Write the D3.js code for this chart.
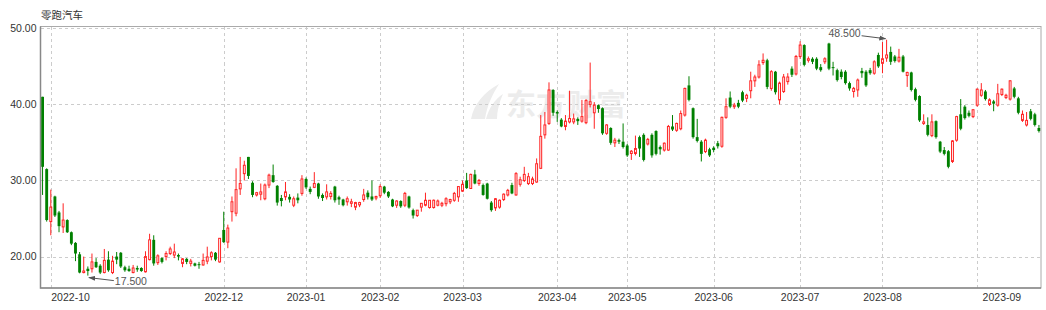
<!DOCTYPE html>
<html>
<head>
<meta charset="utf-8">
<script src="https://cdn.jsdelivr.net/npm/d3@7"></script>
<style>
  body { margin: 0; background: #fff; }
  svg { display: block; font-family: 'Liberation Sans', Arial, sans-serif; }
</style>
</head>
<body>
<script>
let title = '零跑汽车'
let firstDay = '2022-09-29'
let lastDay = '2023-09-26'
// HK market closed (holidays, typhoon / rainstorm days)
let closedDays = ['2022-10-04', '2022-12-26', '2022-12-27', '2023-01-02', '2023-01-23', '2023-01-24',
  '2023-01-25', '2023-04-05', '2023-04-07', '2023-04-10', '2023-05-01', '2023-05-26', '2023-06-22',
  '2023-07-17', '2023-09-01', '2023-09-08']

let opens = [41.0, 31.5, 24.6, 27.9, 25.8, 23.9, 24.8, 23.2, 21.8, 20.3,
  17.9, 18.4, 18.4, 19.3, 18.8, 17.9, 19.6, 17.9, 20.0, 20.5,
  18.6, 18.4, 17.9, 18.5, 18.5, 18.0, 19.6, 22.2, 19.2, 19.8,
  20.0, 20.4, 20.2, 20.2, 19.1, 19.7, 19.1, 19.1, 19.0, 18.9,
  19.4, 20.0, 20.5, 19.3, 23.5, 21.9, 25.9, 25.7, 28.9, 30.9,
  33.1, 29.7, 28.1, 28.2, 27.6, 29.4, 30.7, 29.3, 27.7, 27.85,
  27.85, 26.75, 27.75, 28.3, 30.2, 28.9, 29.1, 29.6, 28.1, 27.85,
  27.9, 29.2, 27.8, 27.5, 27.2, 27.0, 26.5, 26.8, 27.5, 28.4,
  27.9, 27.7, 28.0, 29.2, 28.5, 27.5, 26.75, 27.3, 26.75, 27.9,
  26.1, 25.4, 26.5, 26.75, 26.45, 26.45, 26.75, 26.75, 26.95, 27.2,
  27.4, 27.85, 28.6, 30.0, 28.95, 30.8, 29.6, 29.4, 29.6, 27.1,
  26.4, 26.5, 27.5, 28.1, 29.4, 28.1, 29.5, 30.0, 29.6, 29.6,
  29.8, 31.6, 36.0, 37.5, 41.9, 39.0, 38.0, 37.1, 37.7, 37.7,
  38.1, 37.8, 37.6, 40.0, 38.9, 39.9, 39.5, 36.2, 36.9, 34.95,
  35.3, 35.1, 34.6, 33.55, 33.55, 35.7, 36.0, 34.8, 36.0, 36.5,
  34.4, 34.0, 34.0, 37.1, 36.6, 36.8, 38.6, 42.5, 39.5, 35.7,
  35.1, 33.8, 34.1, 34.3, 34.9, 34.5, 38.3, 40.9, 39.7, 40.2,
  41.6, 40.8, 41.8, 43.1, 43.6, 45.5, 45.8, 42.1, 44.3, 40.6,
  41.7, 43.0, 44.7, 44.0, 46.3, 47.8, 45.8, 46.0, 46.0, 44.9,
  45.6, 48.0, 44.9, 44.5, 44.3, 44.3, 42.8, 41.7, 41.9, 44.4,
  44.3, 44.5, 44.1, 46.5, 45.4, 46.1, 46.9, 46.3, 45.7, 46.3,
  43.8, 44.2, 42.0, 41.1, 37.5, 37.3, 35.9, 37.8, 35.1, 34.0,
  33.85, 32.5, 35.3, 38.7, 39.7, 38.9, 38.4, 39.9, 41.2, 41.7,
  40.0, 40.4, 39.9, 41.3, 40.9, 40.7, 42.1, 40.8, 37.9, 37.3,
  39.1, 38.7, 36.9]
let highs = [41.0, 31.6, 28.8, 28.0, 26.0, 27.0, 24.9, 23.3, 21.9, 20.6,
  20.0, 18.7, 20.4, 19.8, 19.0, 21.0, 20.7, 20.1, 20.6, 20.6,
  18.8, 18.8, 18.9, 18.8, 18.6, 20.7, 23.0, 22.8, 20.3, 19.9,
  20.7, 21.3, 21.7, 20.4, 19.8, 19.8, 19.7, 19.2, 19.3, 20.4,
  21.3, 20.7, 20.6, 22.4, 25.9, 24.2, 27.9, 31.6, 33.1, 32.6,
  33.1, 29.9, 28.5, 29.6, 29.6, 30.9, 32.1, 29.4, 28.1, 29.8,
  28.2, 27.9, 28.3, 30.7, 30.4, 29.2, 31.1, 29.7, 28.3, 29.5,
  28.6, 29.3, 28.0, 27.6, 27.9, 27.6, 27.2, 27.2, 28.9, 28.7,
  30.0, 28.0, 29.5, 29.3, 28.6, 27.6, 27.4, 27.4, 28.5, 28.0,
  26.3, 26.1, 27.0, 28.4, 27.4, 27.5, 27.5, 27.2, 27.8, 27.6,
  28.5, 29.2, 30.0, 31.0, 30.9, 31.4, 30.2, 29.6, 29.7, 27.3,
  27.7, 27.5, 28.3, 28.9, 29.7, 31.1, 30.5, 31.8, 31.0, 30.5,
  32.9, 38.6, 39.0, 42.9, 42.0, 39.2, 38.2, 38.6, 41.8, 38.8,
  38.3, 40.6, 40.7, 45.5, 40.3, 40.0, 39.6, 37.4, 37.0, 35.6,
  35.5, 37.5, 34.8, 34.0, 35.9, 35.9, 36.2, 35.6, 36.2, 36.6,
  34.6, 35.0, 37.3, 38.6, 37.6, 39.2, 42.2, 43.7, 39.6, 38.1,
  35.3, 35.5, 34.3, 34.5, 35.2, 38.4, 40.8, 41.7, 40.2, 40.6,
  41.8, 41.4, 44.3, 43.9, 45.8, 46.7, 46.0, 44.5, 44.4, 43.0,
  44.0, 44.1, 45.0, 46.5, 48.3, 47.9, 46.3, 46.2, 46.2, 45.3,
  46.2, 48.1, 45.6, 44.7, 44.6, 44.5, 43.0, 42.3, 43.4, 44.8,
  44.5, 44.8, 45.8, 46.8, 48.2, 48.5, 47.6, 46.5, 47.3, 46.5,
  44.3, 44.3, 42.2, 41.2, 38.7, 38.3, 38.7, 37.9, 35.2, 34.4,
  34.0, 35.3, 38.5, 40.7, 39.9, 39.2, 39.4, 42.1, 42.8, 41.9,
  40.8, 40.6, 42.7, 42.1, 41.4, 43.2, 42.3, 41.0, 39.2, 39.0,
  39.4, 38.9, 37.3]
let lows = [28.1, 24.6, 22.8, 25.2, 23.2, 23.1, 23.1, 21.5, 19.4, 17.8,
  17.8, 17.5, 17.9, 18.5, 17.7, 17.8, 18.0, 17.7, 19.0, 18.5,
  18.0, 18.0, 17.8, 18.0, 18.0, 17.9, 19.5, 18.8, 18.9, 19.1,
  19.5, 20.2, 19.8, 19.5, 18.6, 19.0, 18.7, 18.7, 18.4, 18.8,
  19.0, 19.5, 19.4, 19.2, 21.8, 21.1, 24.6, 25.3, 28.1, 30.0,
  30.2, 27.8, 27.9, 27.4, 27.4, 29.0, 29.7, 26.7, 26.6, 27.4,
  27.1, 26.5, 27.0, 28.0, 28.9, 28.2, 29.0, 27.6, 27.3, 27.5,
  27.5, 27.1, 26.8, 26.6, 26.7, 26.5, 26.1, 26.5, 27.2, 27.5,
  27.3, 27.4, 27.7, 28.2, 27.7, 26.5, 26.4, 26.4, 26.5, 26.3,
  25.0, 25.2, 25.9, 26.6, 26.3, 26.3, 26.6, 26.5, 26.6, 26.9,
  27.2, 27.2, 28.5, 28.9, 28.9, 29.5, 29.3, 28.0, 27.5, 25.9,
  26.0, 26.3, 27.3, 27.9, 28.2, 28.0, 29.2, 29.8, 29.4, 29.4,
  29.7, 31.5, 35.5, 37.3, 38.5, 37.7, 37.0, 36.6, 37.5, 37.4,
  37.3, 37.6, 37.4, 39.6, 36.8, 38.9, 36.0, 36.0, 34.7, 34.4,
  34.8, 34.2, 33.1, 32.7, 33.3, 33.1, 32.5, 34.6, 33.0, 33.3,
  33.4, 33.8, 33.9, 36.5, 36.4, 36.6, 38.4, 40.4, 35.5, 35.0,
  32.5, 33.6, 33.1, 33.7, 34.2, 34.3, 38.1, 39.5, 39.4, 39.5,
  40.3, 40.3, 40.8, 42.3, 43.4, 45.2, 42.0, 41.8, 41.3, 40.0,
  41.5, 42.6, 43.6, 43.8, 46.0, 45.0, 45.5, 45.3, 44.5, 44.3,
  45.3, 44.5, 43.8, 43.0, 43.3, 42.6, 41.8, 40.9, 41.0, 43.5,
  42.3, 43.9, 43.9, 44.8, 44.1, 45.6, 45.2, 45.5, 45.5, 44.2,
  42.3, 41.7, 40.4, 37.7, 37.3, 35.8, 35.7, 35.5, 33.6, 33.3,
  31.6, 32.3, 35.1, 36.6, 38.0, 38.3, 38.2, 39.7, 41.0, 40.5,
  39.8, 39.1, 39.7, 41.1, 40.7, 40.5, 40.8, 38.7, 37.7, 37.1,
  37.9, 37.1, 36.3]
let closes = [31.8, 24.8, 26.5, 25.4, 24.0, 24.8, 23.2, 21.7, 20.4, 17.9,
  18.1, 18.1, 19.3, 18.6, 17.9, 19.5, 18.2, 19.4, 19.6, 18.7,
  18.2, 18.1, 18.5, 18.3, 18.1, 20.0, 22.2, 19.1, 20.1, 19.3,
  20.4, 21.0, 20.6, 20.0, 19.7, 19.3, 19.4, 18.8, 18.9, 19.5,
  19.95, 20.5, 19.6, 22.4, 21.9, 23.75, 27.2, 28.8, 29.6, 32.0,
  30.6, 28.1, 28.4, 28.5, 29.4, 30.7, 29.8, 27.1, 27.3, 28.5,
  27.5, 27.6, 27.4, 30.2, 29.1, 28.5, 29.6, 27.9, 27.7, 28.5,
  28.3, 27.4, 27.5, 26.75, 27.6, 27.2, 27.1, 27.1, 28.1, 27.8,
  27.5, 27.9, 29.2, 28.4, 27.9, 26.6, 27.3, 26.6, 28.3, 26.45,
  25.4, 26.1, 27.0, 27.4, 27.4, 27.4, 27.3, 27.0, 27.6, 27.5,
  28.3, 29.2, 29.5, 29.0, 30.8, 29.6, 30.0, 28.1, 27.6, 26.1,
  27.6, 27.4, 28.2, 28.7, 28.3, 30.9, 30.1, 30.8, 30.5, 30.2,
  32.2, 35.8, 37.3, 41.9, 38.9, 38.8, 37.1, 37.8, 38.15, 38.1,
  37.8, 38.4, 40.5, 40.35, 39.9, 39.4, 36.2, 37.3, 34.95, 35.3,
  35.1, 34.4, 33.3, 33.85, 34.2, 34.2, 32.7, 35.4, 33.3, 33.5,
  34.1, 34.9, 37.1, 36.7, 37.5, 38.8, 42.1, 40.6, 35.7, 35.2,
  33.5, 35.3, 33.3, 34.0, 34.5, 38.3, 39.7, 39.7, 39.9, 39.7,
  40.5, 41.2, 43.1, 43.6, 45.2, 45.8, 42.3, 44.3, 41.6, 42.8,
  43.6, 43.6, 43.9, 46.3, 47.8, 45.2, 46.0, 45.6, 44.7, 44.5,
  46.0, 44.7, 44.8, 43.2, 43.6, 42.8, 42.1, 42.1, 43.2, 44.1,
  42.5, 44.1, 45.6, 45.0, 46.0, 46.5, 45.6, 45.7, 46.2, 44.3,
  44.2, 41.9, 40.6, 37.9, 37.7, 36.0, 37.7, 35.7, 33.8, 33.5,
  31.8, 35.2, 38.4, 36.8, 38.2, 38.5, 39.3, 42.0, 41.9, 40.7,
  40.6, 40.1, 41.4, 42.0, 41.2, 43.1, 41.0, 38.9, 38.7, 37.9,
  38.1, 37.3, 36.5]

let yTicks = [20, 30, 40, 50]
let gridMonths = ['2022-10', '2022-12', '2023-01', '2023-02', '2023-03', '2023-04', '2023-05',
  '2023-06', '2023-07', '2023-08', '2023-09']
let labelDays = ['2022-10-03', '2022-12-01', '2023-01-03', '2023-02-01', '2023-03-01', '2023-04-03',
  '2023-05-02', '2023-06-01', '2023-07-03', '2023-08-01', '2023-09-13']

let W = 1046, H = 310
let plotLeft = 40.5, plotRight = 1041, plotTop = 26.5, plotBottom = 288
let upColor = '#f22', downColor = '#008000'

let parse = d3.utcParse('%Y-%m-%d')
let fmt = d3.utcFormat('%Y-%m-%d')
let days = d3.utcDays(parse(firstDay), d3.utcDay.offset(parse(lastDay), 1))
  .filter(function (d) { return d.getUTCDay() % 6 !== 0 })
  .map(fmt)
  .filter(function (d) { return closedDays.indexOf(d) < 0 })

let candles = days.map(function (d, i) {
  return {d: d, o: opens[i], h: highs[i], l: lows[i], c: closes[i]}
}).filter(function (k) { return k.o != null })

let x = d3.scaleBand().domain(candles.map(function (k) { return k.d }))
  .range([plotLeft, plotRight]).paddingInner(0.3).paddingOuter(0.15)
let y = d3.scaleLinear().domain([15.87, 50.24]).range([plotBottom, plotTop])
let cx = function (d) { return x(d) + x.bandwidth() / 2 }
let bw = x.bandwidth()

let svg = d3.select('body').append('svg').attr('width', W).attr('height', H)
svg.append('rect').attr('width', W).attr('height', H).attr('fill', '#fff')

// title
svg.append('text').attr('x', 41).attr('y', 19).attr('fill', '#333')
  .style('font-family', "'Noto Sans CJK SC', sans-serif").style('font-size', '10.5px').text(title)

// watermark
let wm = svg.append('g').attr('fill', '#ececec')
wm.append('path').attr('d', 'M471,119 C474,104 484,92 499,84 C492,95 487,106 485,119 Z')
wm.append('path').attr('d', 'M486,119 C489,108 495,99 503,94 C499,103 497,111 497,119 Z')
wm.append('text').attr('x', 506).attr('y', 115)
  .style('font-family', "'Noto Sans CJK SC', sans-serif").style('font-size', '30px').style('font-weight', 700)
  .text('东方财富')

// grid
let grid = svg.append('g').attr('stroke', '#ccc').attr('stroke-dasharray', '3,3').attr('shape-rendering', 'crispEdges')
grid.selectAll('.gy').data(yTicks).enter().append('line')
  .attr('x1', plotLeft).attr('x2', plotRight)
  .attr('y1', function (d) { return Math.round(y(d)) + 0.5 })
  .attr('y2', function (d) { return Math.round(y(d)) + 0.5 })
let monthStart = gridMonths.map(function (m) {
  return candles.find(function (k) { return k.d.slice(0, 7) === m }).d
})
grid.selectAll('.gx').data(monthStart).enter().append('line')
  .attr('y1', plotTop).attr('y2', plotBottom)
  .attr('x1', function (d) { return Math.round(cx(d)) + 0.5 })
  .attr('x2', function (d) { return Math.round(cx(d)) + 0.5 })

// candles
let g = svg.append('g')
let k = g.selectAll('g').data(candles).enter().append('g')
  .attr('stroke', function (d) { return d.c >= d.o ? upColor : downColor })
k.append('line')
  .attr('x1', function (d) { return cx(d.d) }).attr('x2', function (d) { return cx(d.d) })
  .attr('y1', function (d) { return y(d.h) }).attr('y2', function (d) { return y(d.l) })
k.append('rect')
  .attr('x', function (d) { return d.c >= d.o ? x(d.d) + 0.5 : x(d.d) })
  .attr('width', function (d) { return d.c >= d.o ? bw - 1 : bw })
  .attr('y', function (d) { return y(Math.max(d.o, d.c)) })
  .attr('height', function (d) { return Math.max(1, Math.abs(y(d.o) - y(d.c))) })
  .attr('fill', function (d) { return d.c >= d.o ? '#fff' : downColor })
  .attr('stroke-width', function (d) { return d.c >= d.o ? 1 : 0 })

// frame
svg.append('rect').attr('x', plotLeft).attr('y', plotTop).attr('width', plotRight - plotLeft).attr('height', plotBottom - plotTop)
  .attr('fill', 'none').attr('stroke', '#aaa')
svg.append('path').attr('d', 'M' + plotLeft + ',' + plotTop + 'V' + plotBottom + 'H' + plotRight)
  .attr('fill', 'none').attr('stroke', '#888').attr('stroke-width', 1.5)

// y labels
svg.append('g').selectAll('text').data(yTicks).enter().append('text')
  .attr('x', 36.5).attr('y', function (d) { return y(d) }).attr('dy', '0.35em')
  .attr('text-anchor', 'end').attr('fill', '#333').style('font-size', '10.5px')
  .text(d3.format('.2f'))

// x labels
svg.append('g').selectAll('text').data(labelDays).enter().append('text')
  .attr('x', function (d, i) { return cx(d) + (i === 0 ? 0.5 : 0) })
  .attr('y', 301).attr('fill', '#333').style('font-size', '10.5px')
  .attr('text-anchor', function (d, i) { return i === 0 ? 'start' : 'middle' })
  .text(function (d) { return d.slice(0, 7) })

// max / min marks
let defs = svg.append('defs')
defs.append('marker').attr('id', 'arr').attr('viewBox', '0 0 10 10').attr('refX', 9).attr('refY', 5)
  .attr('markerWidth', 7).attr('markerHeight', 7).attr('orient', 'auto-start-reverse')
  .append('path').attr('d', 'M0,1.5L10,5L0,8.5Z').attr('fill', '#555')

let hi = candles[d3.maxIndex(candles, function (d) { return d.h })]
let lo = candles[d3.minIndex(candles, function (d) { return d.l })]
let hp = [cx(hi.d), y(hi.h)], lp = [cx(lo.d), y(lo.l)]

svg.append('line').attr('x1', hp[0] - 25).attr('y1', hp[1] - 4).attr('x2', hp[0] - 1).attr('y2', hp[1] - 1)
  .attr('stroke', '#555').attr('marker-end', 'url(#arr)')
svg.append('text').attr('x', hp[0] - 26).attr('y', hp[1] - 2.5).attr('text-anchor', 'end')
  .attr('fill', '#555').style('font-size', '10.5px').text(d3.format('.3f')(hi.h))

svg.append('line').attr('x1', lp[0] + 26).attr('y1', lp[1] + 5).attr('x2', lp[0] + 1).attr('y2', lp[1] + 2)
  .attr('stroke', '#555').attr('marker-end', 'url(#arr)')
svg.append('text').attr('x', lp[0] + 27).attr('y', lp[1] + 9).attr('text-anchor', 'start')
  .attr('fill', '#555').style('font-size', '10.5px').text(d3.format('.3f')(lo.l))
</script>
</body>
</html>
